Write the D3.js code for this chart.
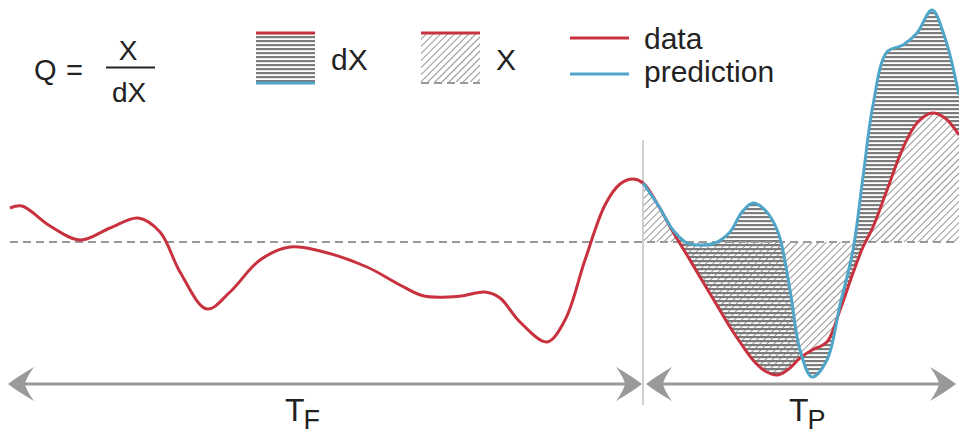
<!DOCTYPE html>
<html>
<head>
<meta charset="utf-8">
<script src="https://cdn.jsdelivr.net/npm/d3@7"></script>
<style>
  html, body { margin: 0; padding: 0; background: #fff; }
  svg { display: block; font-family: "Liberation Sans", Arial, sans-serif; }
</style>
</head>
<body>
<svg id="chart" width="959" height="438"></svg>
<script>
// Observed series over the fitting window T_F and the prediction window T_P
const dataT = [0, 2.4, 8, 14, 20, 25.6, 30, 34, 39.4, 44, 50, 56, 62, 71.4, 78, 82.8, 90.2, 95, 98, 102, 107.4, 111, 115, 119, 122, 124.6,
               126.6, 129.6, 132.6, 135.4, 138, 141, 144, 146.4, 148.6, 151, 153.6, 156, 158, 160.4, 163.4, 166, 168.6, 170.6, 172.6, 175.4, 178.6, 181.4, 184.4, 187, 189.8];
const dataV = [0.34, 0.36, 0.16, 0.02, 0.14, 0.24, 0.10, -0.30, -0.67, -0.50, -0.18, -0.05, -0.09, -0.25, -0.43, -0.54, -0.54, -0.50, -0.56, -0.80, -1.00, -0.78, -0.18, 0.37, 0.58, 0.63,
               0.59, 0.37, 0.10, -0.13, -0.35, -0.60, -0.85, -1.03, -1.18, -1.29, -1.33, -1.26, -1.16, -1.08, -1.00, -0.68, -0.31, -0.05, 0.15, 0.52, 0.94, 1.19, 1.29, 1.24, 1.07];

// Model prediction over T_P
const predT = [126.6, 129.6, 132.6, 135.4, 138, 141, 144, 146.4, 148.6, 151, 153.6, 156, 158, 160.4, 163.4, 166, 168.6, 170.6, 172.6, 175.4, 178.6, 181.4, 184.4, 187, 189.8];
const predV = [0.59, 0.37, 0.12, -0.01, -0.03, -0.01, 0.10, 0.30, 0.39, 0.32, 0.10, -0.48, -1.08, -1.35, -1.18, -0.63, -0.08, 0.65, 1.37, 1.90, 1.97, 2.09, 2.32, 2.04, 1.47];

const referenceLevel = 0;
const splitT = 126.6;          // boundary between T_F and T_P
const windowNames = ["T", "T"];
const windowSubs = ["F", "P"];
const seriesNames = ["data", "prediction"];

const RED = "#c8323e", BLUE = "#4fa6c8", GREY = "#999999", TEXT = "#222";

const svg = d3.select("#chart");
const x = d3.scaleLinear().domain([0, 190]).range([10, 960]);
const y = d3.scaleLinear().domain([-1.4, 2.42]).range([382, 0]);

// ---- fill patterns
const defs = svg.append("defs");
const diag = defs.append("pattern").attr("id", "diag").attr("patternUnits", "userSpaceOnUse")
  .attr("width", 5).attr("height", 5).attr("patternTransform", "rotate(45)");
diag.append("line").attr("x1", 0).attr("y1", 0).attr("x2", 0).attr("y2", 5)
  .attr("stroke", "#707070").attr("stroke-width", 1.5);
const horiz = defs.append("pattern").attr("id", "horiz").attr("patternUnits", "userSpaceOnUse")
  .attr("width", 8).attr("height", 4);
horiz.append("rect").attr("x", 0).attr("y", 0).attr("width", 8).attr("height", 2.2).attr("fill", "#7c7c7c");
defs.append("clipPath").attr("id", "predClip").append("rect")
  .attr("x", x(splitT)).attr("y", 0).attr("width", 959 - x(splitT)).attr("height", 438);

const curve = d3.curveCatmullRom;
const dataPts = dataT.map((t, i) => ({ t, v: dataV[i] }));
const predPts = predT.map((t, i) => ({ t, v: predV[i] }));
const offset = dataT.indexOf(predT[0]);
const pairPts = predT.map((t, i) => ({ t, d: dataV[offset + i], p: predV[i] }));

// X: area between the data and the reference level inside T_P
svg.append("path")
  .attr("clip-path", "url(#predClip)")
  .attr("fill", "url(#diag)")
  .attr("d", d3.area().curve(curve).x(d => x(d.t)).y0(y(referenceLevel)).y1(d => y(d.v))(dataPts));

// dX: area between the data and the prediction
svg.append("path")
  .attr("fill", "url(#horiz)")
  .attr("d", d3.area().curve(curve).x(d => x(d.t)).y0(d => y(d.d)).y1(d => y(d.p))(pairPts));

// reference level
svg.append("line")
  .attr("x1", x(0)).attr("x2", 959).attr("y1", y(referenceLevel)).attr("y2", y(referenceLevel))
  .attr("stroke", "#999").attr("stroke-width", 2.2).attr("stroke-dasharray", "8,5");

// window boundary
svg.append("line")
  .attr("x1", x(splitT)).attr("x2", x(splitT)).attr("y1", 140).attr("y2", 405)
  .attr("stroke", "#d0d0d0").attr("stroke-width", 2);

const line = d3.line().curve(curve).x(d => x(d.t)).y(d => y(d.v));
svg.append("path").attr("d", line(dataPts)).attr("fill", "none")
  .attr("stroke", RED).attr("stroke-width", 3).attr("stroke-linejoin", "round");
svg.append("path").attr("d", line(predPts)).attr("fill", "none")
  .attr("stroke", BLUE).attr("stroke-width", 3).attr("stroke-linejoin", "round");

// ---- window arrows
const arrowY = 384;
const head = "M0,0 Q-9,-7 -26,-17 Q-18,-6 -17,0 Q-18,6 -26,17 Q-9,7 0,0 Z";
const spans = [[x(0) - 2, x(splitT) - 1], [x(splitT) + 3, 956]];
spans.forEach(([a, b], i) => {
  svg.append("line").attr("x1", a + 10).attr("x2", b - 10).attr("y1", arrowY).attr("y2", arrowY)
    .attr("stroke", GREY).attr("stroke-width", 3);
  svg.append("path").attr("d", head).attr("fill", GREY).attr("transform", `translate(${a},${arrowY}) rotate(180)`);
  svg.append("path").attr("d", head).attr("fill", GREY).attr("transform", `translate(${b},${arrowY})`);
  const lbl = svg.append("text").attr("x", i === 0 ? 285 : 789).attr("y", 421)
    .attr("fill", TEXT).attr("font-size", 32);
  lbl.append("tspan").text(windowNames[i]);
  lbl.append("tspan").attr("dx", -1).attr("dy", 8).attr("font-size", 27).text(windowSubs[i]);
});

// ---- formula
svg.append("text").attr("x", 34).attr("y", 80).attr("font-size", 29).attr("fill", TEXT).text("Q");
svg.append("text").attr("x", 66).attr("y", 80).attr("font-size", 29).attr("fill", TEXT).text("=");
svg.append("line").attr("x1", 106).attr("x2", 155).attr("y1", 67.5).attr("y2", 67.5)
  .attr("stroke", TEXT).attr("stroke-width", 2);
svg.append("text").attr("x", 128).attr("y", 60).attr("text-anchor", "middle").attr("font-size", 28).attr("fill", TEXT).text("X");
svg.append("text").attr("x", 129).attr("y", 102).attr("text-anchor", "middle").attr("font-size", 28).attr("fill", TEXT).text("dX");

// ---- swatches
const sw = svg.append("g");
sw.append("rect").attr("x", 256).attr("y", 34).attr("width", 59).attr("height", 48).attr("fill", "url(#horiz)");
sw.append("line").attr("x1", 256).attr("x2", 315).attr("y1", 33).attr("y2", 33).attr("stroke", RED).attr("stroke-width", 3);
sw.append("line").attr("x1", 256).attr("x2", 315).attr("y1", 83).attr("y2", 83).attr("stroke", BLUE).attr("stroke-width", 3);
sw.append("text").attr("x", 331).attr("y", 70).attr("font-size", 30).attr("fill", TEXT).text("dX");

sw.append("rect").attr("x", 421).attr("y", 34).attr("width", 59).attr("height", 48).attr("fill", "url(#diag)");
sw.append("line").attr("x1", 421).attr("x2", 480).attr("y1", 33).attr("y2", 33).attr("stroke", RED).attr("stroke-width", 3);
sw.append("line").attr("x1", 421).attr("x2", 480).attr("y1", 83).attr("y2", 83)
  .attr("stroke", "#999").attr("stroke-width", 2.2).attr("stroke-dasharray", "8,5");
sw.append("text").attr("x", 496).attr("y", 70).attr("font-size", 30).attr("fill", TEXT).text("X");

// ---- series legend
[RED, BLUE].forEach((c, i) => {
  const ly = i === 0 ? 38 : 74;
  sw.append("line").attr("x1", 570).attr("x2", 629).attr("y1", ly).attr("y2", ly).attr("stroke", c).attr("stroke-width", 3);
  sw.append("text").attr("x", 644).attr("y", i === 0 ? 49 : 82).attr("font-size", 30).attr("fill", TEXT).text(seriesNames[i]);
});
</script>
</body>
</html>
